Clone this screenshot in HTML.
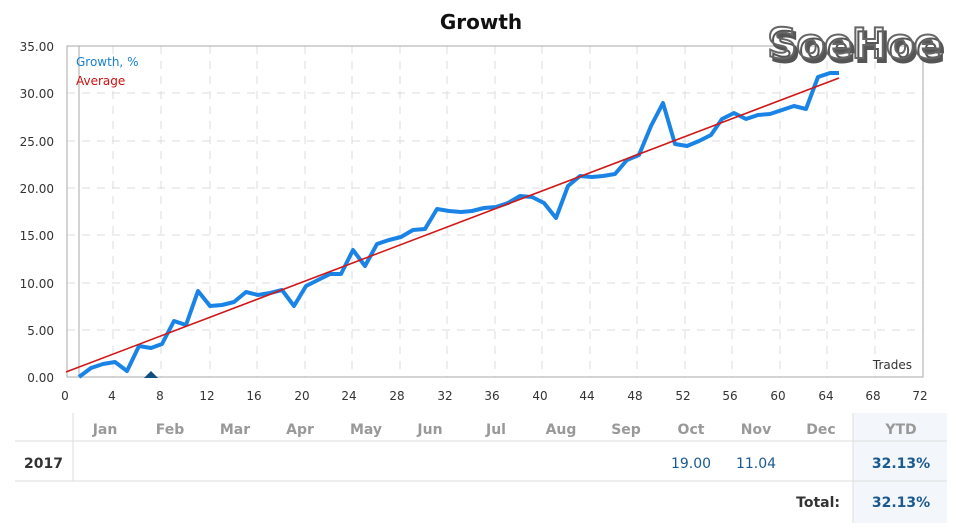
<!DOCTYPE html>
<html><head><meta charset="utf-8"><style>
body{margin:0;background:#fff;width:957px;height:528px;overflow:hidden}
svg{display:block;font-family:"DejaVu Sans","Liberation Sans",sans-serif}
</style></head><body>
<svg width="957" height="528" viewBox="0 0 957 528">
<text x="481" y="29" text-anchor="middle" font-size="20" font-weight="bold" fill="#111">Growth</text>
<g stroke="#dcdcdc" stroke-dasharray="8,7" stroke-width="1">
<line x1="67" y1="330" x2="923" y2="330"/><line x1="67" y1="283" x2="923" y2="283"/>
<line x1="67" y1="235" x2="923" y2="235"/><line x1="67" y1="188" x2="923" y2="188"/>
<line x1="67" y1="141" x2="923" y2="141"/><line x1="67" y1="93" x2="923" y2="93"/>
<line x1="113" y1="46" x2="113" y2="377"/><line x1="161" y1="46" x2="161" y2="377"/>
<line x1="210" y1="46" x2="210" y2="377"/><line x1="257" y1="46" x2="257" y2="377"/>
<line x1="305" y1="46" x2="305" y2="377"/><line x1="352" y1="46" x2="352" y2="377"/>
<line x1="400" y1="46" x2="400" y2="377"/><line x1="447" y1="46" x2="447" y2="377"/>
<line x1="495" y1="46" x2="495" y2="377"/><line x1="542" y1="46" x2="542" y2="377"/>
<line x1="590" y1="46" x2="590" y2="377"/><line x1="637" y1="46" x2="637" y2="377"/>
<line x1="685" y1="46" x2="685" y2="377"/><line x1="732" y1="46" x2="732" y2="377"/>
<line x1="780" y1="46" x2="780" y2="377"/><line x1="827" y1="46" x2="827" y2="377"/>
<line x1="875" y1="46" x2="875" y2="377"/>
</g>
<rect x="67" y="46" width="856" height="331" fill="none" stroke="#aaa"/>
<line x1="79" y1="46" x2="79" y2="377" stroke="#aaa"/>
<g font-size="12" fill="#333" text-anchor="end">
<text x="54" y="51">35.00</text><text x="54" y="98">30.00</text><text x="54" y="146">25.00</text>
<text x="54" y="193">20.00</text><text x="54" y="240">15.00</text><text x="54" y="288">10.00</text>
<text x="54" y="335">5.00</text><text x="54" y="382">0.00</text>
</g>
<g font-size="12" fill="#333" text-anchor="middle">
<text x="65" y="400">0</text><text x="112" y="400">4</text><text x="160" y="400">8</text><text x="207" y="400">12</text>
<text x="254" y="400">16</text><text x="302" y="400">20</text><text x="349" y="400">24</text><text x="397" y="400">28</text>
<text x="445" y="400">32</text><text x="492" y="400">36</text><text x="540" y="400">40</text><text x="587" y="400">44</text>
<text x="635" y="400">48</text><text x="683" y="400">52</text><text x="730" y="400">56</text><text x="778" y="400">60</text>
<text x="826" y="400">64</text><text x="873" y="400">68</text><text x="920" y="400">72</text>
</g>
<text x="76" y="66" font-size="12" fill="#1a7fd0">Growth, %</text>
<text x="76" y="85" font-size="12" fill="#cc1111">Average</text>
<text x="912" y="369" font-size="12" fill="#333" text-anchor="end">Trades</text>
<polyline fill="none" stroke="#1a84e6" stroke-width="4" stroke-linejoin="round" points="79,377 91,368 103,364 115,362 127,371 139,346 151,348 162,344 174,321 186,325 198,291 210,306 222,305 234,302 246,292 258,295 270,293 282,290 294,306 306,286 318,280 330,274 341,274 353,250 365,266 377,244 389,240 401,237 413,230 425,229 437,209 449,211 461,212 472,211 484,208 496,207 508,203 520,196 532,197 544,203 556,218 568,186 580,176 592,177 603,176 615,174 627,160 639,155 651,126 663,103 675,144 687,146 699,141 711,135 722,119 734,113 746,119 758,115 770,114 782,110 794,106 806,109 818,77 830,73 839,73"/>
<line x1="66" y1="372" x2="839" y2="78" stroke="#d01818" stroke-width="1.6"/>
<polygon points="144,378 151,371 158,378" fill="#0f4f80"/>
<text x="854" y="58" font-size="42" font-weight="bold" text-anchor="middle" fill="#fff" stroke="#666" stroke-width="2" letter-spacing="-1" style="text-shadow:3px 4px 0 #555">SoeHoe</text>
<rect x="853" y="413" width="94" height="110" fill="#f3f6fb"/>
<line x1="15" y1="441" x2="947" y2="441" stroke="#ddd"/>
<line x1="15" y1="481" x2="947" y2="481" stroke="#ddd"/>
<line x1="73" y1="413" x2="73" y2="481" stroke="#ddd"/>
<line x1="853" y1="413" x2="853" y2="523" stroke="#ddd"/>
<g font-size="14" fill="#999" text-anchor="middle" font-weight="bold">
<text x="105" y="434">Jan</text><text x="170" y="434">Feb</text><text x="235" y="434">Mar</text><text x="300" y="434">Apr</text>
<text x="366" y="434">May</text><text x="430" y="434">Jun</text><text x="496" y="434">Jul</text><text x="561" y="434">Aug</text>
<text x="626" y="434">Sep</text><text x="691" y="434">Oct</text><text x="756" y="434">Nov</text><text x="821" y="434">Dec</text>
<text x="901" y="434">YTD</text>
</g>
<text x="24" y="468" font-size="14" font-weight="bold" fill="#333">2017</text>
<text x="691" y="468" font-size="14" fill="#1a5a90" text-anchor="middle">19.00</text>
<text x="756" y="468" font-size="14" fill="#1a5a90" text-anchor="middle">11.04</text>
<text x="901" y="468" font-size="14" font-weight="bold" fill="#1a5a90" text-anchor="middle">32.13%</text>
<text x="840" y="507" font-size="14" font-weight="bold" fill="#333" text-anchor="end">Total:</text>
<text x="901" y="507" font-size="14" font-weight="bold" fill="#1a5a90" text-anchor="middle">32.13%</text>
</svg>
</body></html>
